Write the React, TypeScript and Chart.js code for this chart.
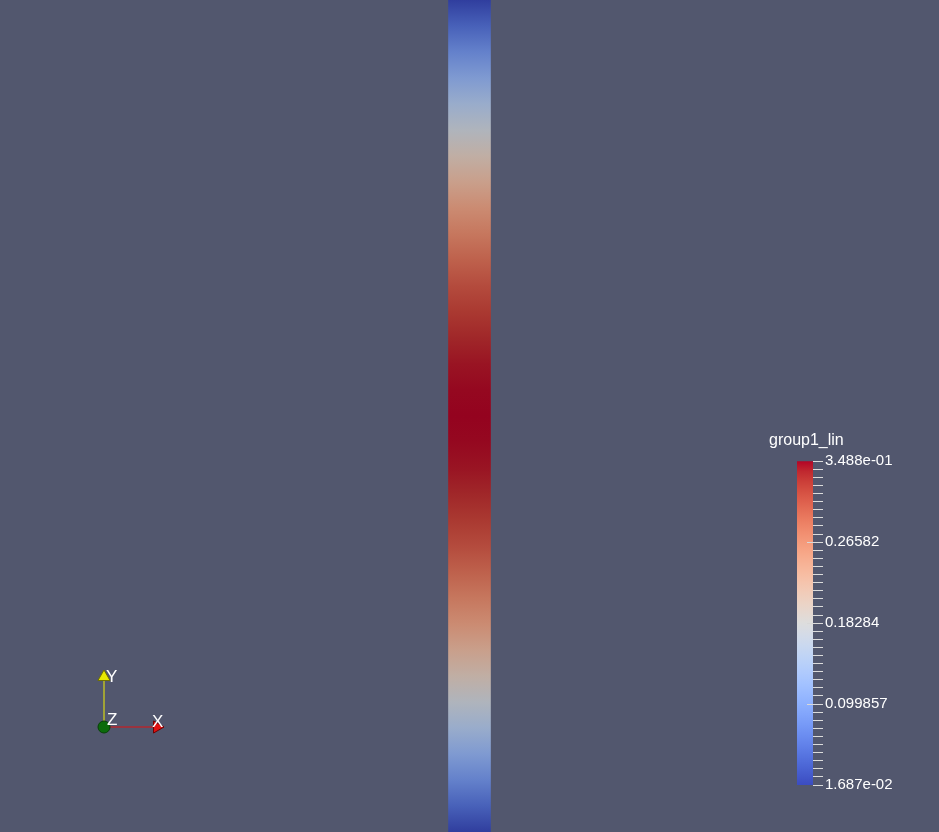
import React, { useEffect, useRef } from 'react';
import { Chart, registerables } from 'chart.js';

Chart.register(...registerables);

// ---------- data ----------
const BACKGROUND = '#52576e';
const scalarName = 'group1_lin';
// values sampled evenly along the strip, from top (0) to bottom (1)
const stripValues = [
  0.017, 0.049, 0.082, 0.113, 0.144, 0.173, 0.201, 0.227, 0.252, 0.273, 0.293,
  0.31, 0.324, 0.335, 0.343, 0.347, 0.349, 0.347, 0.343, 0.335, 0.324, 0.31,
  0.293, 0.273, 0.252, 0.227, 0.201, 0.173, 0.144, 0.113, 0.082, 0.049, 0.017,
];
const rangeMin = 0.016874;
const rangeMax = 0.3488;
const majorTickValues = [0.016874, 0.099857, 0.18284, 0.26582, 0.3488];
const majorTickLabels = ['1.687e-02', '0.099857', '0.18284', '0.26582', '3.488e-01'];
const minorDivisions = 10;
const axisLabels = ['X', 'Y', 'Z'];

// "Cool to Warm" colour map, 33 entries from min to max
const coolWarm: number[][] = [
  [59, 76, 192], [68, 90, 204], [77, 104, 215], [87, 117, 225], [98, 130, 234],
  [108, 142, 241], [119, 154, 247], [130, 165, 251], [141, 176, 254], [152, 185, 255],
  [163, 194, 255], [174, 201, 253], [184, 208, 249], [194, 213, 244], [204, 217, 238],
  [213, 219, 230], [221, 221, 221], [229, 216, 209], [236, 211, 197], [241, 204, 185],
  [245, 196, 173], [247, 187, 160], [247, 177, 148], [247, 166, 135], [244, 154, 123],
  [241, 141, 111], [236, 127, 99], [229, 112, 88], [222, 96, 77], [213, 80, 66],
  [203, 62, 56], [192, 40, 47], [180, 4, 38],
];

const FONT = '"Liberation Sans", Arial, sans-serif';

function mapColor(v: number, shade = 1): string {
  let f = (v - rangeMin) / (rangeMax - rangeMin);
  f = Math.max(0, Math.min(1, f));
  const p = f * (coolWarm.length - 1);
  const i = Math.min(coolWarm.length - 2, Math.floor(p));
  const t = p - i;
  const a = coolWarm[i];
  const b = coolWarm[i + 1];
  const c = [0, 1, 2].map((k) => Math.round((a[k] + (b[k] - a[k]) * t) * shade));
  return `rgb(${c[0]},${c[1]},${c[2]})`;
}

const bgPlugin = {
  id: 'bgFill',
  beforeDraw(chart: any) {
    const ctx = chart.ctx;
    ctx.save();
    ctx.fillStyle = BACKGROUND;
    ctx.fillRect(0, 0, chart.width, chart.height);
    ctx.restore();
  },
};

export default function App() {
  const stripRef = useRef<HTMLCanvasElement>(null);
  const barRef = useRef<HTMLCanvasElement>(null);
  const triadRef = useRef<HTMLCanvasElement>(null);

  useEffect(() => {
    // ---------- strip ----------
    const strip = new Chart(stripRef.current!, {
      type: 'bar',
      data: {
        labels: ['strip'],
        datasets: [
          {
            data: [[0, 1]] as any,
            borderWidth: 0,
            barThickness: 42,
            backgroundColor: (ctx: any) => {
              const chart = ctx.chart;
              if (!chart.chartArea) return mapColor(rangeMax);
              const y = chart.scales.y;
              const g = chart.ctx.createLinearGradient(0, y.getPixelForValue(0), 0, y.getPixelForValue(1));
              stripValues.forEach((v, i) => g.addColorStop(i / (stripValues.length - 1), mapColor(v, 0.82)));
              return g;
            },
          },
        ],
      },
      options: {
        responsive: false,
        animation: false,
        layout: { padding: 0, autoPadding: false },
        plugins: { legend: { display: false }, tooltip: { enabled: false } },
        scales: {
          x: { display: false },
          y: { display: false, min: 0, max: 1, reverse: true },
        },
      },
      plugins: [bgPlugin],
    });

    // ---------- colour legend ----------
    const majorExtendPlugin = {
      id: 'majorExtend',
      afterDraw(chart: any) {
        const s = chart.scales.y;
        const ctx = chart.ctx;
        ctx.save();
        ctx.strokeStyle = '#d8d8d8';
        ctx.lineWidth = 1;
        majorTickValues.slice(1, -1).forEach((v) => {
          const py = Math.round(s.getPixelForValue(v)) + 0.5;
          ctx.beginPath();
          ctx.moveTo(chart.chartArea.right - 6, py);
          ctx.lineTo(chart.chartArea.right, py);
          ctx.stroke();
        });
        ctx.restore();
      },
    };

    const bar = new Chart(barRef.current!, {
      type: 'bar',
      data: {
        labels: [''],
        datasets: [
          {
            data: [[rangeMin, rangeMax]] as any,
            borderWidth: 0,
            barPercentage: 1,
            categoryPercentage: 1,
            yAxisID: 'y',
            backgroundColor: (ctx: any) => {
              const chart = ctx.chart;
              if (!chart.chartArea) return mapColor(rangeMax);
              const y = chart.scales.y;
              const g = chart.ctx.createLinearGradient(0, y.getPixelForValue(rangeMin), 0, y.getPixelForValue(rangeMax));
              coolWarm.forEach((_, i) => {
                const v = rangeMin + ((rangeMax - rangeMin) * i) / (coolWarm.length - 1);
                g.addColorStop(i / (coolWarm.length - 1), mapColor(v));
              });
              return g;
            },
          },
        ],
      },
      options: {
        responsive: false,
        animation: false,
        layout: { padding: { left: 0, right: 46, top: 0, bottom: 26 }, autoPadding: false },
        plugins: {
          legend: { display: false },
          tooltip: { enabled: false },
          title: {
            display: true,
            text: scalarName,
            align: 'start',
            color: '#ffffff',
            font: { family: FONT, size: 16, weight: 'normal' },
            padding: { top: 0, bottom: 11 },
          },
        },
        scales: {
          x: { display: false },
          yl: {
            type: 'linear',
            position: 'left',
            display: true,
            grid: { display: false },
            border: { display: false },
            ticks: { display: false },
            afterFit: (s: any) => {
              s.width = 28;
            },
          },
          y: {
            type: 'linear',
            position: 'right',
            min: rangeMin,
            max: rangeMax,
            afterBuildTicks: (s: any) => {
              const t: any[] = [];
              for (let j = 0; j < majorTickValues.length - 1; j++) {
                const a = majorTickValues[j];
                const b = majorTickValues[j + 1];
                for (let k = 0; k < minorDivisions; k++) t.push({ value: a + ((b - a) * k) / minorDivisions });
              }
              t.push({ value: majorTickValues[majorTickValues.length - 1] });
              s.ticks = t;
            },
            afterFit: (s: any) => {
              s.width = 80;
            },
            grid: { drawOnChartArea: false, tickLength: 10, color: '#dcdcdc', lineWidth: 1 },
            border: { display: false },
            ticks: {
              autoSkip: false,
              padding: 2,
              color: '#ffffff',
              font: { family: FONT, size: 15 },
              callback: (v: any) => {
                const idx = majorTickValues.findIndex((m) => Math.abs(m - Number(v)) < 1e-6);
                return idx >= 0 ? majorTickLabels[idx] : '';
              },
            },
          },
        },
      },
      plugins: [majorExtendPlugin],
    });

    // ---------- orientation axes ----------
    const labelPlugin = {
      id: 'triadLabels',
      afterDraw(chart: any) {
        const ctx = chart.ctx;
        const sx = chart.scales.x;
        const sy = chart.scales.y;
        const pos = [
          [0.96, 0.1],
          [0.04, 1.0],
          [0.06, 0.14],
        ];
        ctx.save();
        ctx.fillStyle = '#ffffff';
        ctx.font = `17px ${FONT}`;
        ctx.textAlign = 'left';
        ctx.textBaseline = 'middle';
        axisLabels.forEach((l, i) => {
          ctx.fillText(l, sx.getPixelForValue(pos[i][0]), sy.getPixelForValue(pos[i][1]));
        });
        ctx.restore();
      },
    };

    const triad = new Chart(triadRef.current!, {
      type: 'scatter',
      data: {
        datasets: [
          {
            label: 'Z',
            data: [{ x: 0, y: 0 }],
            pointRadius: 6,
            pointStyle: 'circle',
            backgroundColor: '#0b6b0b',
            borderColor: '#064006',
            borderWidth: 1,
          },
          {
            label: 'X',
            data: [
              { x: 0, y: 0 },
              { x: 1.06, y: 0 },
            ],
            showLine: true,
            borderColor: '#e01010',
            borderWidth: 1,
            pointRadius: [0, 7] as any,
            pointStyle: 'triangle',
            rotation: 90,
            backgroundColor: '#e01010',
            pointBorderColor: '#700000',
          } as any,
          {
            label: 'Y',
            data: [
              { x: 0, y: 0 },
              { x: 0, y: 1.0 },
            ],
            showLine: true,
            borderColor: '#f0f000',
            borderWidth: 1,
            pointRadius: [0, 7] as any,
            pointStyle: 'triangle',
            backgroundColor: '#e8e800',
            pointBorderColor: '#707000',
          } as any,
        ],
      },
      options: {
        responsive: false,
        animation: false,
        layout: { padding: 0, autoPadding: false },
        plugins: { legend: { display: false }, tooltip: { enabled: false } },
        scales: {
          x: { display: false, min: -0.5, max: 1.5 },
          y: { display: false, min: -0.5, max: 1.5 },
        },
      },
      plugins: [labelPlugin],
    });

    return () => {
      strip.destroy();
      bar.destroy();
      triad.destroy();
    };
  }, []);

  return (
    <div style={{ position: 'absolute', left: 0, top: 0, width: 939, height: 832, overflow: 'hidden' }}>
      <canvas ref={stripRef} width={939} height={832} style={{ position: 'absolute', left: 0, top: 0 }} />
      <canvas ref={barRef} width={170} height={380} style={{ position: 'absolute', left: 769, top: 431 }} />
      <canvas ref={triadRef} width={100} height={100} style={{ position: 'absolute', left: 79, top: 652 }} />
    </div>
  );
}
